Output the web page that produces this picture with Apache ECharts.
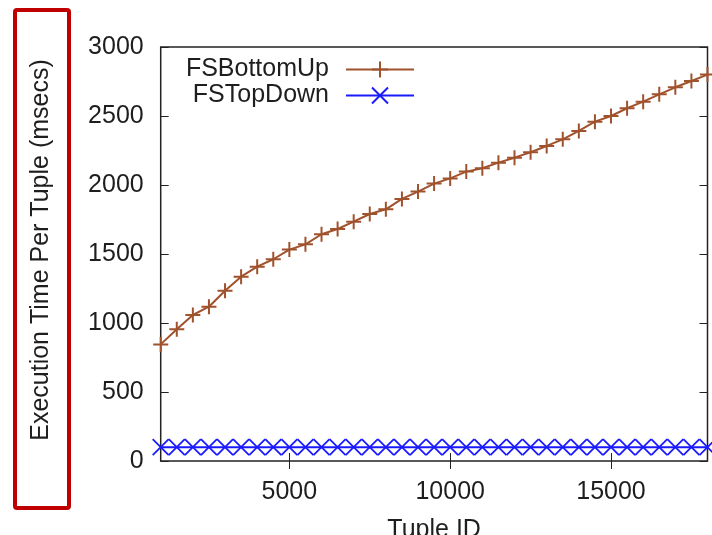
<!DOCTYPE html>
<html>
<head>
<meta charset="utf-8">
<script src="https://cdn.jsdelivr.net/npm/echarts@6/dist/echarts.min.js"></script>
<style>
html,body{margin:0;padding:0;background:#fff;}
#chart{width:712px;height:535px;}
</style>
</head>
<body>
<div id="chart"></div>
<script>
const tupleIds = [1000,1500,2000,2500,3000,3500,4000,4500,5000,5500,6000,6500,7000,7500,8000,8500,9000,9500,10000,10500,11000,11500,12000,12500,13000,13500,14000,14500,15000,15500,16000,16500,17000,17500,18000];
const fsBottomUp = [845,954,1058,1118,1234,1336,1408,1462,1532,1570,1643,1681,1734,1790,1824,1899,1952,2010,2048,2097,2121,2162,2198,2237,2283,2331,2392,2459,2500,2556,2604,2657,2708,2754,2800];
const fsTopDown = [100,100,100,100,100,100,100,100,100,100,100,100,100,100,100,100,100,100,100,100,100,100,100,100,100,100,100,100,100,100,100,100,100,100,100];
const xTickValues = [5000,10000,15000];
const seriesNames = ['FSBottomUp','FSTopDown'];
const yLabel = 'Execution Time Per Tuple (msecs)';
const xLabel = 'Tuple ID';

const FONT = '"Liberation Sans", Arial, Helvetica, sans-serif';
const TXT = '#1e1e1e';
const BROWN = '#a0522d';
const BLUE = '#1a1aff';
const PLUS = 'path://M8,0L8,16M0,8L16,8';
const CROSS = 'path://M0,0L16,16M0,16L16,0';
const plain = (v) => String(v);

const chart = echarts.init(document.getElementById('chart'));
const pairs = (ys) => tupleIds.map((x, i) => [x, ys[i]]);
const legendCommon = {
  orient: 'vertical', align: 'right', padding: 0,
  itemWidth: 68, itemHeight: 20,
  textStyle: {fontFamily: FONT, fontSize: 25, color: TXT, padding: [0, 12, 0, 0]}
};
chart.setOption({
  animation: false,
  backgroundColor: '#fff',
  textStyle: {fontFamily: FONT},
  grid: {left: 160.7, right: 4.5, top: 47, bottom: 74, show: true, borderColor: '#222', borderWidth: 1.5, backgroundColor: 'transparent', containLabel: false, outerBoundsMode: 'none'},
  legend: [
    Object.assign({data: [seriesNames[0]], right: 297, top: 57}, legendCommon),
    Object.assign({data: [seriesNames[1]], right: 297, top: 83}, legendCommon)
  ],
  graphic: [{
    type: 'rect', shape: {x: 15, y: 10, width: 54, height: 498, r: 2},
    style: {fill: 'none', stroke: '#c00000', lineWidth: 4}, z: 100
  }],
  xAxis: [{
    type: 'value', min: 1000, max: 18000, position: 'bottom',
    name: xLabel, nameLocation: 'middle', nameGap: 57,
    nameTextStyle: {fontSize: 25, color: TXT, fontFamily: FONT},
    axisLine: {show: false},
    axisTick: {inside: true, length: 8, customValues: xTickValues, lineStyle: {color: '#222', width: 1}},
    axisLabel: {customValues: xTickValues, formatter: plain, fontSize: 25, color: TXT, fontFamily: FONT, margin: 19},
    splitLine: {show: false}
  }, {
    type: 'value', min: 1000, max: 18000, position: 'top',
    axisLine: {show: false},
    axisTick: {inside: true, length: 8, customValues: xTickValues, lineStyle: {color: '#222', width: 1}},
    axisLabel: {show: false},
    splitLine: {show: false}
  }],
  yAxis: [{
    type: 'value', min: 0, max: 3000, interval: 500, position: 'left',
    name: yLabel, nameLocation: 'middle', nameGap: 107,
    nameTextStyle: {fontSize: 25, color: TXT, fontFamily: FONT, padding: [0, 0, 0, 8]},
    axisLine: {show: false},
    axisTick: {inside: true, length: 8, lineStyle: {color: '#222', width: 1}},
    axisLabel: {formatter: plain, fontSize: 25, color: TXT, fontFamily: FONT, margin: 17},
    splitLine: {show: false}
  }, {
    type: 'value', min: 0, max: 3000, interval: 500, position: 'right',
    axisLine: {show: false},
    axisTick: {inside: true, length: 8, lineStyle: {color: '#222', width: 1}},
    axisLabel: {show: false},
    splitLine: {show: false}
  }],
  series: [{
    name: seriesNames[0], type: 'line', data: pairs(fsBottomUp),
    symbol: PLUS, symbolSize: 15, showAllSymbol: true, clip: false,
    lineStyle: {color: BROWN, width: 2},
    itemStyle: {color: BROWN, borderColor: BROWN, borderWidth: 2}
  }, {
    name: seriesNames[1], type: 'line', data: pairs(fsTopDown),
    symbol: CROSS, symbolSize: 16, showAllSymbol: true, clip: false,
    lineStyle: {color: BLUE, width: 2},
    itemStyle: {color: BLUE, borderColor: BLUE, borderWidth: 1.8}
  }]
});
</script>
</body>
</html>
